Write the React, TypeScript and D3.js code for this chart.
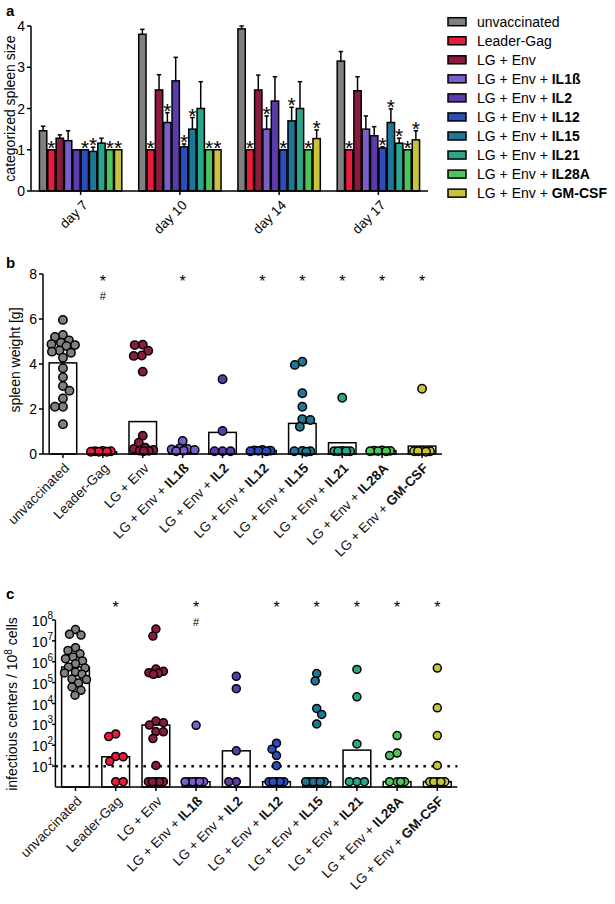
import React from "react";
import * as d3 from "d3";

// ---------- data ----------
const groupNames = [
  "unvaccinated", "Leader-Gag", "LG + Env", "LG + Env + IL1ß", "LG + Env + IL2",
  "LG + Env + IL12", "LG + Env + IL15", "LG + Env + IL21", "LG + Env + IL28A", "LG + Env + GM-CSF",
];
const labelPlain = [
  "unvaccinated", "Leader-Gag", "LG + Env", "LG + Env + ", "LG + Env + ",
  "LG + Env + ", "LG + Env + ", "LG + Env + ", "LG + Env + ", "LG + Env + ",
];
const labelBold = ["", "", "", "IL1ß", "IL2", "IL12", "IL15", "IL21", "IL28A", "GM-CSF"];
const groupColors = [
  "#808080", "#e91c3c", "#8c1a3d", "#7b5fc9", "#5a3cab",
  "#2e4dbd", "#1f7797", "#29a68b", "#4cc65b", "#c9c33b",
];

// panel a: categorized spleen size (mean, SEM, significance)
const days = ["day 7", "day 10", "day 14", "day 17"];
const sizeDay7 = [1.46, 1.0, 1.28, 1.22, 1.0, 1.0, 0.96, 1.16, 1.0, 1.0];
const errDay7 = [0.11, 0, 0.08, 0.24, 0, 0, 0.1, 0.12, 0, 0];
const starDay7 = [0, 1, 0, 0, 0, 1, 1, 0, 1, 1];
const sizeDay10 = [3.8, 1.0, 2.45, 1.66, 2.67, 1.07, 1.5, 2.0, 1.0, 1.0];
const errDay10 = [0.12, 0, 0.37, 0.24, 0.57, 0.07, 0.28, 0.65, 0, 0];
const starDay10 = [0, 1, 0, 1, 0, 1, 1, 0, 1, 1];
const sizeDay14 = [3.93, 1.0, 2.45, 1.5, 2.18, 1.0, 1.7, 2.0, 1.0, 1.27];
const errDay14 = [0.07, 0, 0.36, 0.32, 0.59, 0, 0.33, 0.65, 0, 0.21];
const starDay14 = [0, 1, 0, 1, 0, 1, 1, 0, 1, 1];
const sizeDay17 = [3.15, 1.0, 2.43, 1.5, 1.34, 1.04, 1.66, 1.16, 1.0, 1.24];
const errDay17 = [0.23, 0, 0.34, 0.32, 0.22, 0.03, 0.33, 0.12, 0, 0.22];
const starDay17 = [0, 1, 0, 0, 0, 1, 1, 1, 1, 1];
const sizeByDay = [sizeDay7, sizeDay10, sizeDay14, sizeDay17];
const errByDay = [errDay7, errDay10, errDay14, errDay17];
const starByDay = [starDay7, starDay10, starDay14, starDay17];
const sizeTicks = [0, 1, 2, 3, 4];

// panel b: spleen weight [g]
const weightUnvacc = [5.96, 5.29, 5.2, 5.05, 4.95, 4.88, 4.84, 4.8, 4.6, 4.55, 4.5, 4.28, 3.81, 3.41, 3.02, 2.81, 2.47, 2.1, 2.1, 1.32];
const weightLeaderGag = [0.14, 0.12, 0.12, 0.1, 0.1, 0.1];
const weightLGEnv = [4.86, 4.84, 4.59, 4.38, 4.36, 3.66, 0.81, 0.5, 0.28, 0.22, 0.18, 0.15, 0.14, 0.12];
const weightIL1b = [0.58, 0.25, 0.22, 0.2, 0.18, 0.15, 0.12];
const weightIL2 = [3.32, 1.02, 0.12, 0.12, 0.12];
const weightIL12 = [0.18, 0.16, 0.15, 0.14, 0.12, 0.12];
const weightIL15 = [4.1, 3.96, 2.7, 2.1, 1.55, 1.51, 1.21, 0.14, 0.12, 0.12, 0.1];
const weightIL21 = [2.5, 0.14, 0.13, 0.12, 0.12, 0.12];
const weightIL28A = [0.16, 0.15, 0.14, 0.13, 0.12, 0.12];
const weightGMCSF = [2.9, 0.14, 0.12, 0.12, 0.12, 0.1];
const weightPoints = [weightUnvacc, weightLeaderGag, weightLGEnv, weightIL1b, weightIL2, weightIL12, weightIL15, weightIL21, weightIL28A, weightGMCSF];
const weightBars = [4.05, 0.1, 1.44, 0.18, 0.96, 0.15, 1.36, 0.5, 0.15, 0.35];
const weightStar = [0, 1, 0, 1, 0, 1, 1, 1, 1, 1];
const weightHash = [0, 1, 0, 0, 0, 0, 0, 0, 0, 0];
const weightTicks = [0, 2, 4, 6, 8];

// panel c: infectious centers / 10^8 cells
const icUnvacc = [3.5e7, 2.1e7, 1.9e7, 4.7e6, 3.5e6, 2.4e6, 1.7e6, 1.4e6, 1.1e6, 8e5, 5.6e5, 5e5, 3.2e5, 2.9e5, 2.5e5, 1.5e5, 1.4e5, 9.5e4, 6.2e4, 4.3e4, 2.5e4];
const icLeaderGag = [350, 260, 29, 28, 17, 1.8, 1.8];
const icLGEnv = [3.7e7, 1.7e7, 4.5e5, 3.5e5, 3e5, 2.8e5, 2.5e5, 1450, 1200, 930, 450, 440, 210, 10.7, 1.8, 1.8, 1.8, 1.8, 1.8];
const icIL1b = [900, 1.8, 1.8, 1.8, 1.8, 1.8, 1.8];
const icIL2 = [2e5, 5.1e4, 54, 1.8, 1.8];
const icIL12 = [126, 65, 32, 10.5, 1.8, 1.8, 1.8, 1.8, 1.8];
const icIL15 = [2.7e5, 1.2e5, 5.8e3, 3e3, 1.05e3, 1.8, 1.8, 1.8, 1.8, 1.8, 1.8];
const icIL21 = [4.3e5, 2.1e4, 115, 1.8, 1.8, 1.8];
const icIL28A = [290, 42, 32, 1.8, 1.8, 1.8, 1.8];
const icGMCSF = [5e5, 6.2e3, 290, 10.7, 1.8, 1.8, 1.8, 1.8, 1.8];
const icPoints = [icUnvacc, icLeaderGag, icLGEnv, icIL1b, icIL2, icIL12, icIL15, icIL21, icIL28A, icGMCSF];
const icStar = [0, 1, 0, 1, 0, 1, 1, 1, 1, 1];
const icHash = [0, 0, 0, 1, 0, 0, 0, 0, 0, 0];
const icDetectionLimit = 10;
const icTickExps = [1, 2, 3, 4, 5, 6, 7, 8];

// ---------- helpers ----------
const FONT = "'Liberation Sans', Arial, Helvetica, sans-serif";

// deterministic beeswarm limited to +-maxHalf; overlaps evenly when crowded
function swarm(vals: number[], yFn: (v: number) => number, minDist: number, maxHalf: number) {
  const sorted = [...vals].sort((a, b) => b - a);
  const placed: { v: number; y: number; dx: number }[] = [];
  let flip = 1;
  const cands: number[] = [0];
  for (let m = 0.5; m <= maxHalf + 1e-9; m += 0.5) cands.push(-m, m);
  for (const v of sorted) {
    const y = yFn(v);
    let best = 0;
    let bestScore = -1;
    let found = false;
    for (const c of cands) {
      const off = c * flip;
      const md = placed.length ? Math.min(...placed.map((p) => Math.hypot(p.dx - off, p.y - y))) : Infinity;
      if (md >= minDist) {
        best = off;
        found = true;
        break;
      }
      if (md > bestScore + 0.01) {
        bestScore = md;
        best = off;
      }
    }
    if (!found && placed.length === 0) best = 0;
    if (best !== 0) flip = -flip;
    placed.push({ v, y, dx: best });
  }
  return placed;
}

function XLabel({ x, y, i, size }: { x: number; y: number; i: number; size: number }) {
  return (
    <text transform={`translate(${x},${y}) rotate(-45)`} textAnchor="end" fontSize={size} fontFamily={FONT} fill="#111">
      {labelPlain[i]}
      {labelBold[i] ? <tspan fontWeight="bold">{labelBold[i]}</tspan> : null}
    </text>
  );
}

export default function App() {
  // panel a scales
  const yA = d3.scaleLinear().domain([0, 4]).range([191, 26]);
  const xA = d3.scaleBand<string>().domain(days).range([31, 428]).paddingInner(0.15).paddingOuter(0.075);
  const xAi = d3.scaleBand<string>().domain(groupNames).range([0, xA.bandwidth()]).padding(0.12);

  // panel b scales
  const yB = d3.scaleLinear().domain([0, 8]).range([454, 274]);
  const xB = d3.scaleBand<string>().domain(groupNames).range([43, 442]).paddingInner(0.31).paddingOuter(0.155);

  // panel c scales
  const yC = d3.scaleLog().domain([1, 1e8]).range([787, 620]);
  const xC = d3.scaleBand<string>().domain(groupNames).range([55.4, 457.4]).paddingInner(0.31).paddingOuter(0.155);

  const sw = 1.5;

  return (
    <svg width={615} height={904} style={{ position: "absolute", left: 0, top: 0, background: "#fff" }} fontFamily={FONT}>
      {/* ================= panel a ================= */}
      <text x={6} y={16} fontSize={15} fontWeight="bold">a</text>
      <text transform={`translate(15,${(yA(0) + yA(4)) / 2}) rotate(-90)`} textAnchor="middle" fontSize={14}>categorized spleen size</text>
      {days.map((d, di) => {
        const gx = xA(d)!;
        return (
          <g key={d}>
            {groupNames.map((g, gi) => {
              const v = sizeByDay[di][gi];
              const e = errByDay[di][gi];
              const bx = gx + xAi(g)!;
              const bw = xAi.bandwidth();
              const top = yA(v);
              const et = yA(v + e);
              return (
                <g key={g}>
                  <rect x={bx} y={top} width={bw} height={yA(0) - top} fill={groupColors[gi]} stroke="#000" strokeWidth={sw} />
                  {e > 0 && (
                    <g stroke="#000" strokeWidth={sw}>
                      <line x1={bx + bw / 2} x2={bx + bw / 2} y1={top} y2={et} />
                      <line x1={bx + bw / 2 - 2.2} x2={bx + bw / 2 + 2.2} y1={et} y2={et} />
                    </g>
                  )}
                  {starByDay[di][gi] ? (
                    <text x={bx + bw / 2} y={et + 5} textAnchor="middle" fontSize={21}>*</text>
                  ) : null}
                </g>
              );
            })}
          </g>
        );
      })}
      {/* axes a */}
      <line x1={31} x2={31} y1={yA(0)} y2={yA(4)} stroke="#000" strokeWidth={sw} />
      {sizeTicks.map((t) => (
        <g key={t}>
          <line x1={27} x2={31} y1={yA(t)} y2={yA(t)} stroke="#000" strokeWidth={sw} />
          <text x={25} y={yA(t)} dy="0.36em" textAnchor="end" fontSize={14}>{t}</text>
        </g>
      ))}
      <line x1={31} x2={428} y1={yA(0)} y2={yA(0)} stroke="#000" strokeWidth={sw} />
      {days.map((d) => {
        const cx = xA(d)! + xA.bandwidth() / 2;
        return (
          <g key={d}>
            <line x1={cx} x2={cx} y1={yA(0)} y2={yA(0) + 4} stroke="#000" strokeWidth={sw} />
            <text transform={`translate(${cx + 8},${yA(0) + 15}) rotate(-45)`} textAnchor="end" fontSize={13.5}>{d}</text>
          </g>
        );
      })}
      {/* legend */}
      {groupNames.map((g, i) => {
        const cy = 21.7 + i * 19.05;
        return (
          <g key={g}>
            <rect x={448} y={cy - 4} width={18} height={8} fill={groupColors[i]} stroke="#000" strokeWidth={sw} />
            <text x={477} y={cy + 5} fontSize={14}>
              {labelPlain[i]}
              {labelBold[i] ? <tspan fontWeight="bold">{labelBold[i]}</tspan> : null}
            </text>
          </g>
        );
      })}

      {/* ================= panel b ================= */}
      <text x={6} y={268} fontSize={15} fontWeight="bold">b</text>
      <text transform={`translate(20,360) rotate(-90)`} textAnchor="middle" fontSize={14}>spleen weight [g]</text>
      {groupNames.map((g, i) => {
        const top = yB(weightBars[i]);
        return (
          <rect key={g} x={xB(g)!} y={top} width={xB.bandwidth()} height={yB(0) - top} fill="#fff" stroke="#000" strokeWidth={sw} />
        );
      })}
      {groupNames.map((g, i) => {
        const cx = xB(g)! + xB.bandwidth() / 2;
        const pts = swarm(weightPoints[i], (v) => yB(v), 8, 12);
        return (
          <g key={g}>
            {pts.map((p, k) => (
              <circle key={k} cx={cx + p.dx} cy={p.y} r={4.2} fill={groupColors[i]} stroke="#000" strokeWidth={sw} />
            ))}
            {weightStar[i] ? <text x={cx} y={286.5} textAnchor="middle" fontSize={16}>*</text> : null}
            {weightHash[i] ? <text x={cx} y={299.5} textAnchor="middle" fontSize={11}>#</text> : null}
          </g>
        );
      })}
      <line x1={43} x2={43} y1={yB(0)} y2={yB(8)} stroke="#000" strokeWidth={sw} />
      {weightTicks.map((t) => (
        <g key={t}>
          <line x1={39} x2={43} y1={yB(t)} y2={yB(t)} stroke="#000" strokeWidth={sw} />
          <text x={37} y={yB(t)} dy="0.36em" textAnchor="end" fontSize={14}>{t}</text>
        </g>
      ))}
      <line x1={43} x2={442} y1={yB(0)} y2={yB(0)} stroke="#000" strokeWidth={sw} />
      {groupNames.map((g, i) => {
        const cx = xB(g)! + xB.bandwidth() / 2;
        return (
          <g key={g}>
            <line x1={cx} x2={cx} y1={yB(0)} y2={yB(0) + 4} stroke="#000" strokeWidth={sw} />
            <XLabel x={cx + 7} y={yB(0) + 15} i={i} size={13.5} />
          </g>
        );
      })}

      {/* ================= panel c ================= */}
      <text x={6} y={599} fontSize={15} fontWeight="bold">c</text>
      <text transform={`translate(17,704) rotate(-90)`} textAnchor="middle" fontSize={14}>
        infectious centers / 10<tspan dy={-5} fontSize={10}>8</tspan><tspan dy={5}> cells</tspan>
      </text>
      {groupNames.map((g, i) => {
        const med = d3.median(icPoints[i])!;
        const top = yC(med);
        return (
          <rect key={g} x={xC(g)!} y={top} width={xC.bandwidth()} height={yC(1) - top} fill="#fff" stroke="#000" strokeWidth={sw} />
        );
      })}
      <line x1={55.4} x2={457.4} y1={yC(icDetectionLimit)} y2={yC(icDetectionLimit)} stroke="#000" strokeWidth={2.5} strokeDasharray="2.5,5.5" />
      {groupNames.map((g, i) => {
        const cx = xC(g)! + xC.bandwidth() / 2;
        const pts = swarm(icPoints[i], (v) => yC(v), 7.5, 11);
        return (
          <g key={g}>
            {pts.map((p, k) => (
              <circle key={k} cx={cx + p.dx} cy={p.y} r={4} fill={groupColors[i]} stroke="#000" strokeWidth={sw} />
            ))}
            {icStar[i] ? <text x={cx} y={613} textAnchor="middle" fontSize={16}>*</text> : null}
            {icHash[i] ? <text x={cx} y={626} textAnchor="middle" fontSize={11}>#</text> : null}
          </g>
        );
      })}
      <line x1={55.4} x2={55.4} y1={yC(1)} y2={yC(1e8)} stroke="#000" strokeWidth={sw} />
      {icTickExps.map((e) => {
        const ty = yC(Math.pow(10, e));
        return (
          <g key={e}>
            <line x1={52} x2={55.4} y1={ty} y2={ty} stroke="#000" strokeWidth={sw} />
            <text x={53} y={ty + 6} textAnchor="end" fontSize={14}>
              10<tspan dy={-7} fontSize={10}>{e}</tspan>
            </text>
          </g>
        );
      })}
      <line x1={55.4} x2={457.4} y1={yC(1)} y2={yC(1)} stroke="#000" strokeWidth={sw} />
      {groupNames.map((g, i) => {
        const cx = xC(g)! + xC.bandwidth() / 2;
        return (
          <g key={g}>
            <line x1={cx} x2={cx} y1={yC(1)} y2={yC(1) + 4} stroke="#000" strokeWidth={sw} />
            <XLabel x={cx + 7} y={yC(1) + 15} i={i} size={13.5} />
          </g>
        );
      })}
    </svg>
  );
}
